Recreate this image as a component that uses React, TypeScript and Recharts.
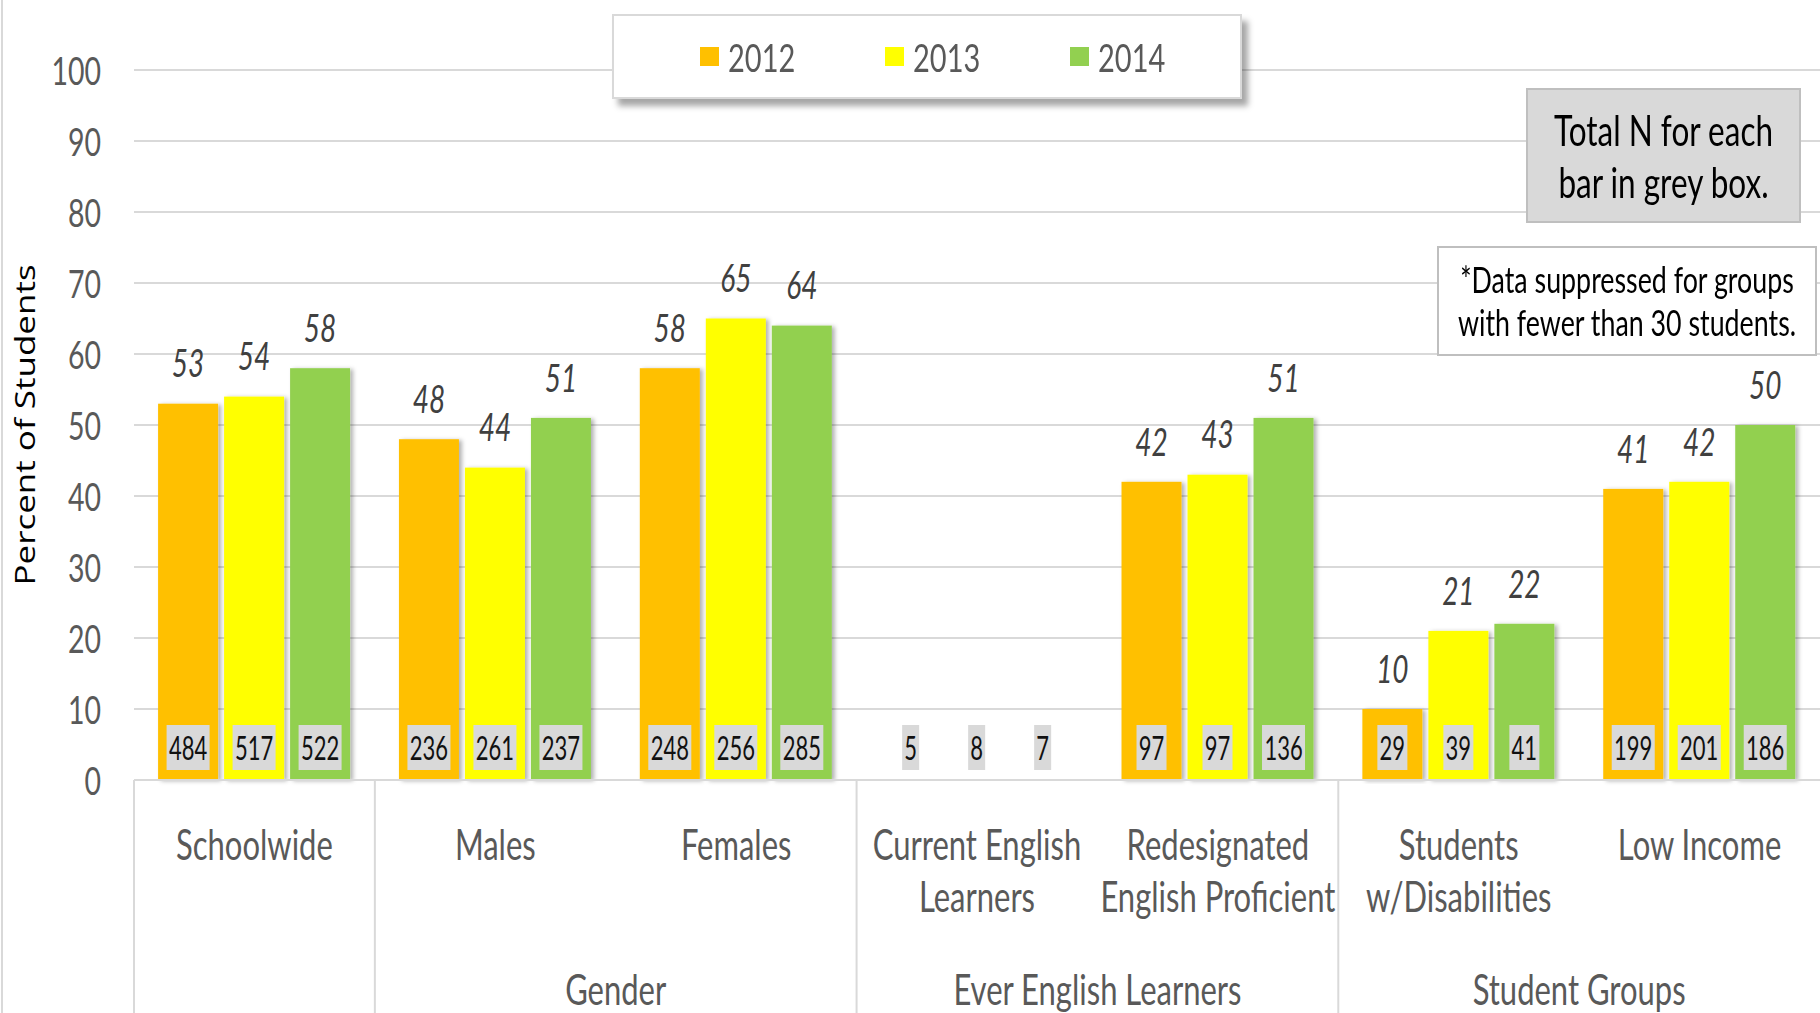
import React from 'react';
import { BarChart, Bar, XAxis, YAxis, CartesianGrid, Legend, LabelList } from 'recharts';

const categories = [
    'Schoolwide',
    'Males',
    'Females',
    'Current English Learners',
    'Redesignated English Proficient',
    'Students w/Disabilities',
    'Low Income',
];
const categoryLines = [
    ['Schoolwide'],
    ['Males'],
    ['Females'],
    ['Current English', 'Learners'],
    ['Redesignated', 'English Proficient'],
    ['Students', 'w/Disabilities'],
    ['Low Income'],
];
const groups = ['', 'Gender', 'Gender', 'Ever English Learners', 'Ever English Learners', 'Student Groups', 'Student Groups'];

const years = ['2012', '2013', '2014'];
const colors = ['#FFC000', '#FFFF00', '#92D050'];

// percent of students (null = suppressed, fewer than 30 students)
const pct2012 = [53, 48, 58, null, 42, 10, 41];
const pct2013 = [54, 44, 65, null, 43, 21, 42];
const pct2014 = [58, 51, 64, null, 51, 22, 50];

// total N per bar (grey boxes)
const n2012 = [484, 236, 248, 5, 97, 29, 199];
const n2013 = [517, 261, 256, 8, 97, 39, 201];
const n2014 = [522, 237, 285, 7, 136, 41, 186];

const yTicks = [0, 10, 20, 30, 40, 50, 60, 70, 80, 90, 100];

const pctSeries = [pct2012, pct2013, pct2014];
const nSeries = [n2012, n2013, n2014];

const data = categories.map((name, i) => ({
    name,
    p2012: pct2012[i] ?? 0,
    p2013: pct2013[i] ?? 0,
    p2014: pct2014[i] ?? 0,
    n2012: n2012[i],
    n2013: n2013[i],
    n2014: n2014[i],
}));

const W = 1820;
const H = 1013;
const PLOT_LEFT = 134;
const PLOT_TOP = 70;
const AXIS_Y = 780;
const BAND = (W - PLOT_LEFT) / categories.length;

// the original is a vertically stretched Calibri chart
const FONT = "Lato, 'Open Sans', sans-serif";
const SY = 1.35;
const TEXT = '#595959';
const GRID = '#d9d9d9';

const separatorBefore = [true, true, false, true, false, true, false];

const SText = ({ x, y, size, anchor = 'middle', fill = TEXT, italic = false, sx = 1, sy = SY, family = FONT, children }: any) => (
    <text
        transform={`translate(${x},${y}) scale(${sx},${sy})`}
        textAnchor={anchor}
        dominantBaseline="central"
        fontFamily={family}
        fontSize={size}
        fontStyle={italic ? 'italic' : 'normal'}
        fill={fill}
    >
        {children}
    </text>
);

const BarShape = (props: any) => {
    const { x, y, width, height, fill } = props;
    if (!height || height <= 0) return null;
    return <rect x={x} y={y} width={width} height={height} fill={fill} filter="url(#barShadow)" />;
};

const pctLabel = (s: number) => (props: any) => {
    const { x, y, width, index } = props;
    const v = pctSeries[s][index];
    if (v == null) return null;
    return (
        <SText x={x + width / 2} y={y - 41} size={28} italic fill="#404040">
            {v}
        </SText>
    );
};

const nLabel = (s: number) => (props: any) => {
    const { x, y, width, height, index } = props;
    const label = String(nSeries[s][index]);
    const cx = x + width / 2;
    const bottom = y + height;
    const w = label.length * 13 + 4;
    return (
        <g>
            <rect x={cx - w / 2} y={bottom - 55} width={w} height={45} fill="#d9d9d9" />
            <SText x={cx} y={bottom - 32} size={22} fill="#111" sy={1.45}>
                {label}
            </SText>
        </g>
    );
};

const CategoryTick = (props: any) => {
    const { x, payload } = props;
    const i = payload.index;
    const lines = categoryLines[i];
    const g = groups[i];
    let groupLabel = null;
    if (g && g !== groups[i - 1]) {
        let span = 1;
        while (groups[i + span] === g) span++;
        groupLabel = (
            <SText x={x + ((span - 1) * BAND) / 2} y={989} size={31}>
                {g}
            </SText>
        );
    }
    return (
        <g>
            {separatorBefore[i] && <line x1={x - BAND / 2} x2={x - BAND / 2} y1={AXIS_Y} y2={H} stroke={GRID} strokeWidth={2} />}
            {lines.map((t, k) => (
                <SText key={k} x={x} y={844 + k * 52} size={31}>
                    {t}
                </SText>
            ))}
            {groupLabel}
        </g>
    );
};

const ValueTick = (props: any) => {
    const { y, payload } = props;
    return (
        <SText x={101} y={y} size={28.5} anchor="end">
            {payload.value}
        </SText>
    );
};

const stretch = (sy: number): React.CSSProperties => ({ display: 'inline-block', transform: `scaleY(${sy})` });

const LegendBox = () => (
    <div
        style={{
            position: 'relative',
            width: 630,
            height: 85,
            boxSizing: 'border-box',
            background: '#fff',
            border: '2px solid #d9d9d9',
            boxShadow: '6px 7px 6px rgba(0,0,0,0.35)',
        }}
    >
        {years.map((yr, i) => (
            <div key={yr} style={{ position: 'absolute', left: 86 + i * 185, top: 0, height: 81, display: 'flex', alignItems: 'center' }}>
                <span style={{ display: 'inline-block', width: 19, height: 19, background: colors[i], marginRight: 9 }} />
                <span style={{ ...stretch(SY), fontFamily: FONT, fontSize: 29, color: TEXT }}>{yr}</span>
            </div>
        ))}
    </div>
);

export default function App() {
    return (
        <div style={{ position: 'absolute', left: 0, top: 0, width: W, height: H, background: '#fff', overflow: 'hidden' }}>
            <svg width={0} height={0} style={{ position: 'absolute' }}>
                <defs>
                    <filter id="barShadow" x="-20%" y="-5%" width="140%" height="110%">
                        <feDropShadow dx={3} dy={1} stdDeviation={2} floodColor="#000" floodOpacity={0.3} />
                    </filter>
                </defs>
            </svg>
            <div style={{ position: 'absolute', left: 1, top: 0, width: 2, height: H, background: GRID }} />
            <BarChart
                width={W}
                height={H}
                data={data}
                margin={{ top: PLOT_TOP, right: 0, left: 0, bottom: 0 }}
                barCategoryGap="10%"
                barGap={6}
            >
                <CartesianGrid vertical={false} stroke={GRID} strokeWidth={2} />
                <XAxis
                    dataKey="name"
                    height={H - AXIS_Y}
                    interval={0}
                    tickLine={false}
                    axisLine={{ stroke: GRID, strokeWidth: 2 }}
                    tick={<CategoryTick />}
                />
                <YAxis
                    width={PLOT_LEFT}
                    domain={[0, 100]}
                    ticks={yTicks}
                    interval={0}
                    axisLine={false}
                    tickLine={false}
                    tick={<ValueTick />}
                    label={{
                        content: (p: any) => {
                            const vb = p.viewBox || {};
                            const cy = (vb.y ?? PLOT_TOP) + (vb.height ?? AXIS_Y - PLOT_TOP) / 2;
                            return (
                                <text
                                    transform={`translate(24, ${cy}) rotate(-90) scale(1.25, 1)`}
                                    textAnchor="middle"
                                    dominantBaseline="central"
                                    fontFamily="'Open Sans', sans-serif"
                                    fontSize={28}
                                    fill="#000"
                                >
                                    Percent of Students
                                </text>
                            );
                        },
                    }}
                />
                <Legend
                    verticalAlign="middle"
                    align="center"
                    content={<LegendBox />}
                    wrapperStyle={{ position: 'absolute', left: 612, top: 14, width: 630, height: 85 }}
                />
                {years.map((yr, s) => (
                    <Bar key={yr} dataKey={`p${yr}`} name={yr} fill={colors[s]} shape={<BarShape />} isAnimationActive={false}>
                        <LabelList dataKey={`p${yr}`} content={pctLabel(s)} />
                        <LabelList dataKey={`n${yr}`} content={nLabel(s)} />
                    </Bar>
                ))}
            </BarChart>
            <div
                style={{
                    position: 'absolute',
                    left: 1526,
                    top: 88,
                    width: 275,
                    height: 135,
                    boxSizing: 'border-box',
                    background: '#d9d9d9',
                    border: '2px solid #bfbfbf',
                    display: 'flex',
                    flexDirection: 'column',
                    alignItems: 'center',
                    justifyContent: 'center',
                    fontFamily: FONT,
                    fontSize: 31.5,
                    lineHeight: '52px',
                    color: '#000',
                }}
            >
                <span style={stretch(SY)}>Total N for each</span>
                <span style={stretch(SY)}>bar in grey box.</span>
            </div>
            <div
                style={{
                    position: 'absolute',
                    left: 1437,
                    top: 246,
                    width: 380,
                    height: 110,
                    boxSizing: 'border-box',
                    background: '#fff',
                    border: '2px solid #bfbfbf',
                    display: 'flex',
                    flexDirection: 'column',
                    alignItems: 'center',
                    justifyContent: 'center',
                    fontFamily: FONT,
                    fontSize: 26.8,
                    lineHeight: '44px',
                    color: '#000',
                }}
            >
                <span style={stretch(SY)}>*Data suppressed for groups</span>
                <span style={stretch(SY)}>with fewer than 30 students.</span>
            </div>
        </div>
    );
}
